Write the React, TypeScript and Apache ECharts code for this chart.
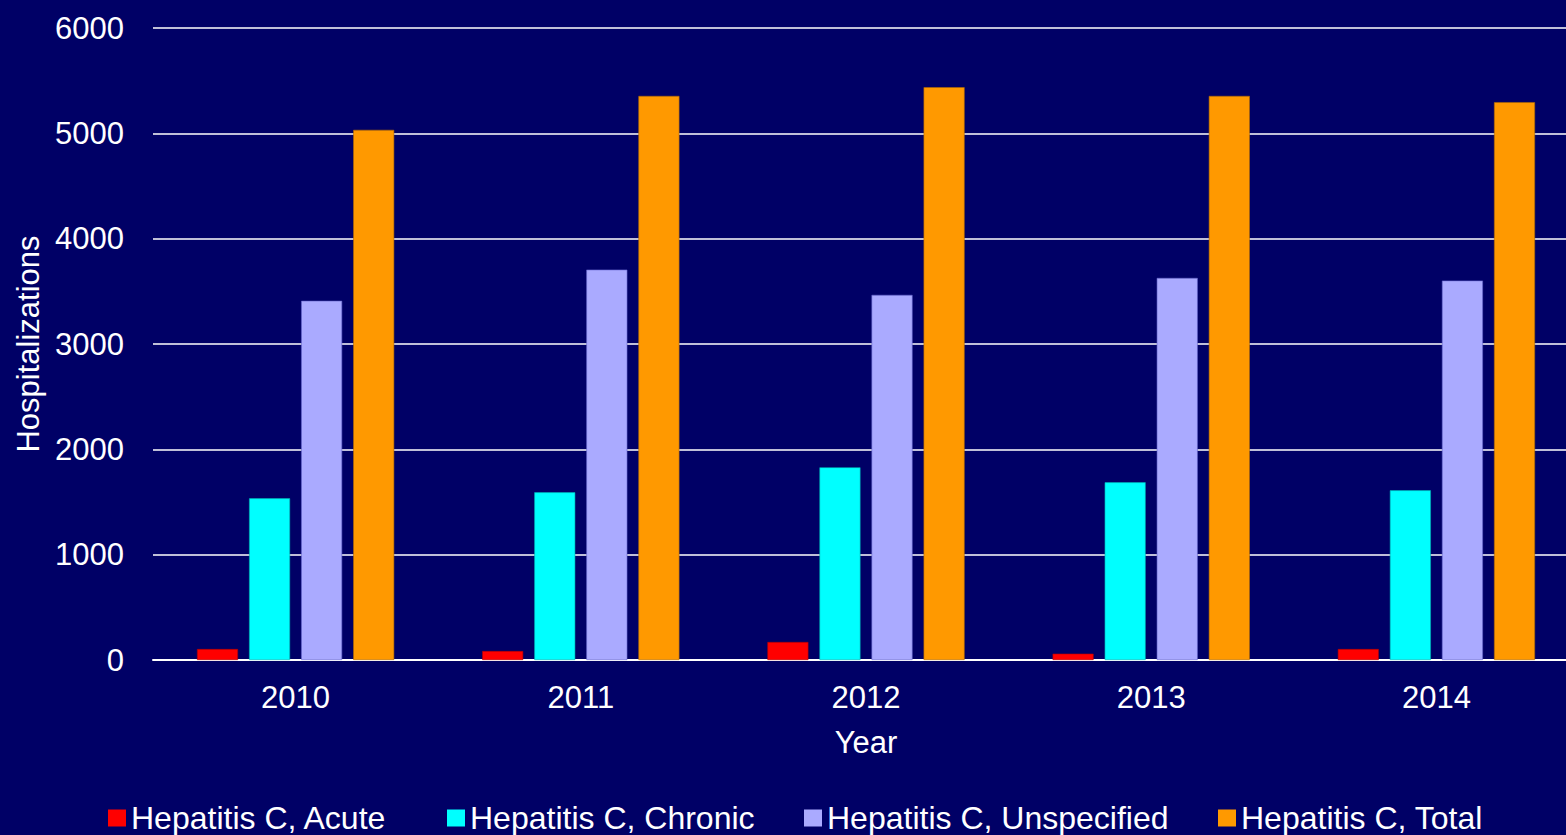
import React, { useEffect, useRef } from "react";
import * as echarts from "echarts";

const years = ["2010", "2011", "2012", "2013", "2014"];
const acute = [104, 85, 171, 60, 104];
const chronic = [1535, 1592, 1829, 1687, 1611];
const unspecified = [3410, 3706, 3466, 3627, 3602];
const total = [5033, 5355, 5438, 5355, 5296];

const seriesNames = [
  "Hepatitis C, Acute",
  "Hepatitis C, Chronic",
  "Hepatitis C, Unspecified",
  "Hepatitis C, Total",
];
const colors = ["#FF0000", "#00FFFF", "#AAAAFF", "#FF9900"];
const borders = ["#B00000", "#00B0B0", "#6666CC", "#B06A00"];
const legendLefts = [108, 447, 804, 1218];

const FONT = "'Liberation Sans', Arial, sans-serif";

export default function App() {
  const ref = useRef<HTMLDivElement>(null);
  useEffect(() => {
    document.body.style.margin = "0";
    const chart = echarts.init(ref.current!, null, { renderer: "svg" });
    const data = [acute, chronic, unspecified, total];
    chart.setOption({
      animation: false,
      backgroundColor: "#000066",
      textStyle: { fontFamily: FONT, color: "#FFFFFF" },
      grid: { left: 153, right: 1, top: 28, bottom: 175, containLabel: false },
      legend: seriesNames.map((name, i) => ({
        left: legendLefts[i],
        top: 802,
        padding: 0,
        itemWidth: 18,
        itemHeight: 17,
        icon: "rect",
        itemStyle: { borderWidth: 0 },
        textStyle: { color: "#FFFFFF", fontSize: 32, fontFamily: FONT },
        data: [name],
      })),
      xAxis: {
        type: "category",
        data: years,
        name: "Year",
        nameLocation: "middle",
        nameGap: 67,
        nameTextStyle: { color: "#FFFFFF", fontSize: 31, fontFamily: FONT },
        axisLine: { show: true, lineStyle: { color: "#FFFFFF", width: 2 } },
        axisTick: { show: false },
        axisLabel: { color: "#FFFFFF", fontSize: 31, fontFamily: FONT, margin: 22 },
      },
      yAxis: {
        type: "value",
        min: 0,
        max: 6000,
        interval: 1000,
        name: "Hospitalizations",
        nameLocation: "middle",
        nameGap: 106,
        nameTextStyle: { color: "#FFFFFF", fontSize: 31, fontFamily: FONT },
        axisLine: { show: false },
        axisTick: { show: false },
        axisLabel: {
          color: "#FFFFFF",
          fontSize: 31,
          fontFamily: FONT,
          margin: 29,
          formatter: (v: number) => String(v),
        },
        splitLine: { lineStyle: { color: "#FFFFFF", width: 1.5 } },
      },
      series: seriesNames.map((name, i) => ({
        name,
        type: "bar",
        data: data[i],
        barWidth: 41,
        barGap: "27%",
        itemStyle: { color: colors[i], borderColor: borders[i], borderWidth: 0.6 },
      })),
    });
    return () => chart.dispose();
  }, []);
  return (
    <div style={{ width: 1566, height: 835, overflow: "hidden", background: "#000066" }}>
      <div ref={ref} style={{ width: 1580, height: 835 }} />
    </div>
  );
}
